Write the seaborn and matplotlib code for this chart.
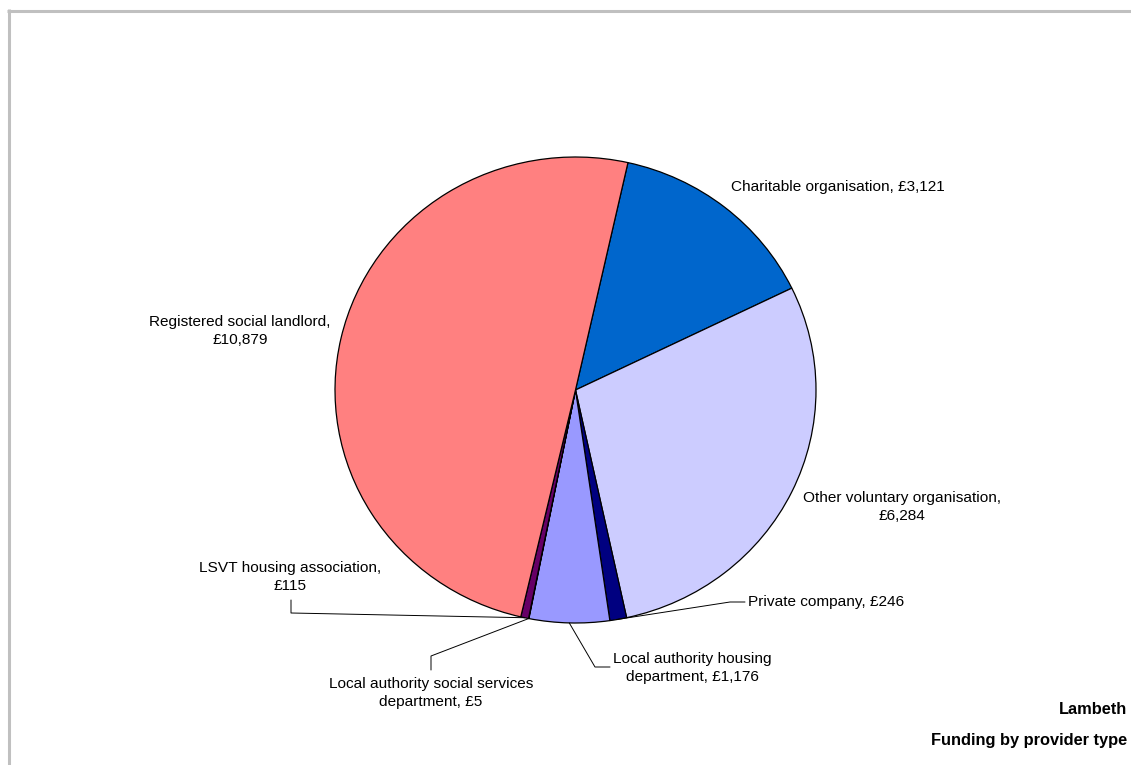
import numpy as np
import matplotlib
matplotlib.use("Agg")
import matplotlib.pyplot as plt
from matplotlib.lines import Line2D
import seaborn as sns

# Funding by provider type, Lambeth (£)
providers = [
    "Charitable organisation",
    "Other voluntary organisation",
    "Private company",
    "Local authority housing\ndepartment",
    "Local authority social services\ndepartment",
    "LSVT housing association",
    "Registered social landlord",
]
funding = [3121, 6284, 246, 1176, 5, 115, 10879]
colors = ["#0066CC", "#CCCCFF", "#000080", "#9999FF", "#993366", "#660066", "#FF8080"]

sns.set_theme(style="white")
plt.rcParams["font.family"] = ["Liberation Sans", "DejaVu Sans"]
plt.rcParams["text.color"] = "black"

W, H = 1131, 765
fig = plt.figure(figsize=(W / 100, H / 100), dpi=100)

# pie box in pixels (slightly squashed vertically)
cx, cy = 575.5, 390
rx, ry = 240.5, 233
pax = fig.add_axes([(cx - rx) / W, 1 - (cy + ry) / H, 2 * rx / W, 2 * ry / H])
start = 77.4
pax.pie(
    funding, colors=colors, startangle=start, counterclock=False,
    center=(0, 0), radius=1, frame=True,
    wedgeprops=dict(edgecolor="black", linewidth=0.9),
)
pax.set_xlim(-1, 1)
pax.set_ylim(-1, 1)
pax.set_aspect("auto")
pax.axis("off")

# overlay in pixel coordinates (y measured upward)
ax = fig.add_axes([0, 0, 1, 1])
ax.set_xlim(0, W)
ax.set_ylim(0, H)
ax.axis("off")
ax.patch.set_alpha(0)

fs = 11.1
txt = dict(fontsize=fs, color="black", linespacing=1.4)

total = sum(funding)
cum = np.cumsum([0] + funding)

def Y(py):
    return H - py

def edge(i, k=1.0):
    """Point on the rim at the middle of wedge i."""
    mid = np.deg2rad(start - 360 * (cum[i] + funding[i] / 2) / total)
    return cx + k * rx * np.cos(mid), Y(cy) + k * ry * np.sin(mid)

def label(i, sep):
    return f"{providers[i]},{sep}£{funding[i]:,}"

# labels without leader lines
ax.text(731, Y(187), label(0, " "), ha="left", va="center", **txt)
ax.text(902, Y(507), label(1, "\n"), ha="center", va="center", **txt)
ax.text(240, Y(331), label(6, "\n"), ha="center", va="center", **txt)

lk = dict(color="black", linewidth=0.7)
# Private company
x0, y0 = edge(2)
ax.plot([x0, 730, 745], [y0, Y(602), Y(602)], **lk)
ax.text(748, Y(602), label(2, " "), ha="left", va="center", **txt)

# Local authority housing department
x0, y0 = edge(3)
ax.plot([x0, 595, 610], [y0, Y(667), Y(667)], **lk)
ax.text(692, Y(668), label(3, " "), ha="center", va="center", **txt)

# Local authority social services department
x0, y0 = edge(4)
ax.plot([x0, 431, 431], [y0, Y(656), Y(670)], **lk)
ax.text(431, Y(693), label(4, " "), ha="center", va="center", **txt)

# LSVT housing association
x0, y0 = edge(5)
ax.plot([x0, 291, 291], [y0, Y(613), Y(600)], **lk)
ax.text(290, Y(577), label(5, "\n"), ha="center", va="center", **txt)

# captions
ax.text(1127, Y(709), "Lambeth", ha="right", va="center", fontsize=11.8,
        fontweight="bold", color="black")
ax.text(1127, Y(741), "Funding by provider type", ha="right", va="center", fontsize=11.8,
        fontweight="bold", color="black")

# grey frame along the top and left edges
fig.add_artist(Line2D([7 / W, 1], [1 - 10.5 / H, 1 - 10.5 / H], color="#C0C0C0", linewidth=2.2,
                      solid_capstyle="butt", transform=fig.transFigure))
fig.add_artist(Line2D([8.5 / W, 8.5 / W], [1 - 9 / H, 0], color="#C0C0C0", linewidth=2.2,
                      solid_capstyle="butt", transform=fig.transFigure))

fig.savefig("out.png", dpi=100)
